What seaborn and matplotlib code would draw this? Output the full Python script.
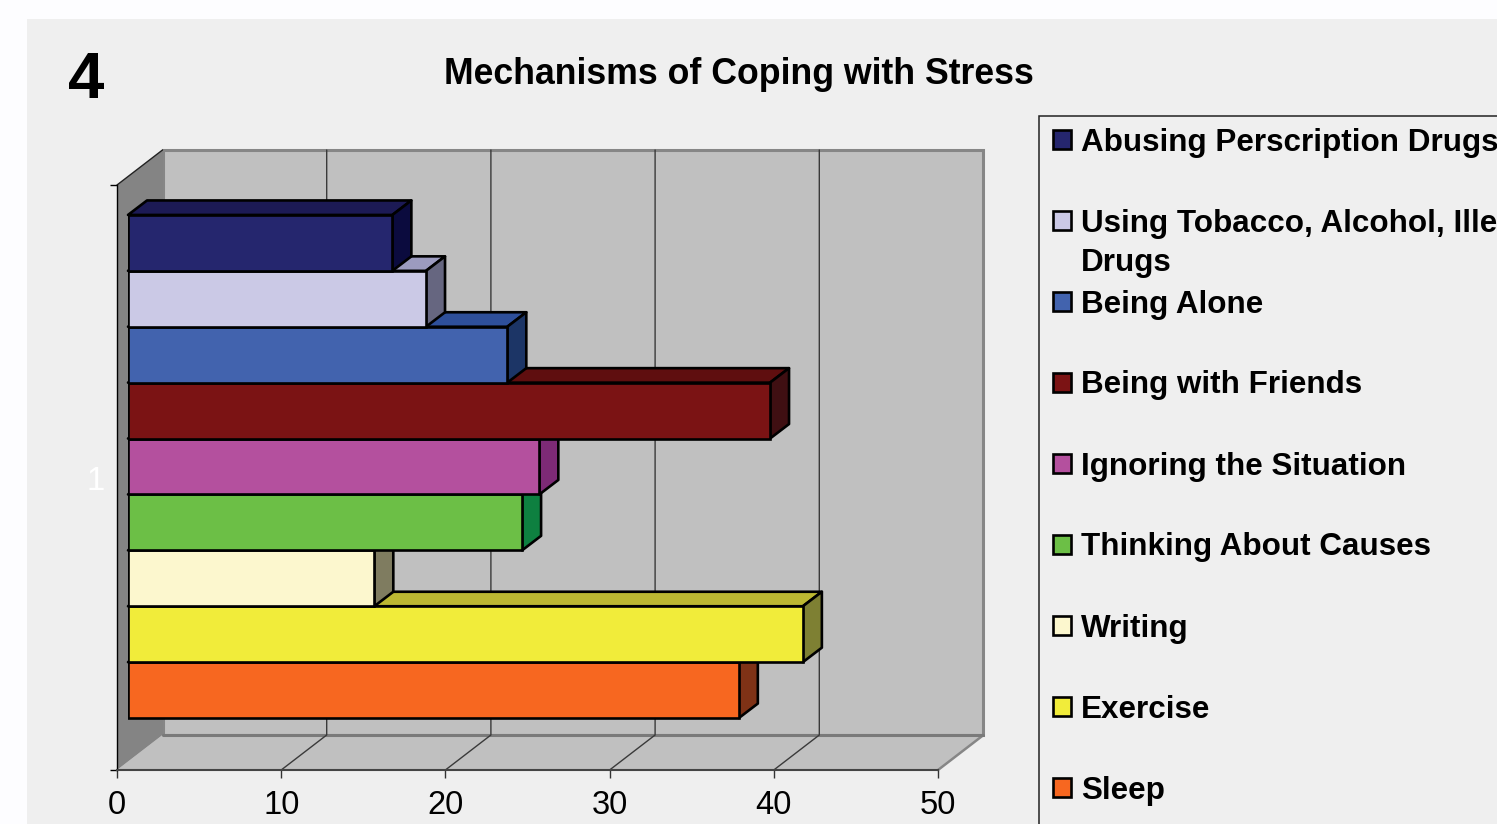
import matplotlib
matplotlib.use("Agg")
import matplotlib.pyplot as plt
from matplotlib.patches import Polygon, Rectangle
from matplotlib.transforms import IdentityTransform
import numpy as np
import pandas as pd
import seaborn as sns

title = "Mechanisms of Coping with Stress"
panel_number = "4"
category = "1"
series = ["Abusing Perscription Drugs", "Using Tobacco, Alcohol, Illegal\nDrugs", "Being Alone",
          "Being with Friends", "Ignoring the Situation", "Thinking About Causes",
          "Writing", "Exercise", "Sleep"]
values = [16.1, 18.15, 23.1, 39.1, 25.05, 24.0, 15.0, 41.1, 37.2]
x_ticks = [0, 10, 20, 30, 40, 50]
front_colors = ["#25266E", "#CBC9E6", "#4263AE", "#7B1314", "#B4509E", "#6CBF46", "#FCF7CE", "#F1EC3A", "#F76720"]
top_colors = ["#1C1A55", "#9C9BBF", "#2E4F9A", "#5F0E0F", "#8A3A7B", "#4E8C33", "#BDB99B", "#BCB832", "#B04A17"]
side_colors = ["#0B0B3E", "#666680", "#1C3566", "#3F0F12", "#7D2A76", "#0E8040", "#7F7C60", "#7E8033", "#7F3216"]

W, H = 1497, 824
FONT = "Liberation Sans"
sns.set_style("white")
plt.rcParams["font.family"] = [FONT, "DejaVu Sans"]

fig = plt.figure(figsize=(W / 100, H / 100), dpi=100, facecolor="#FDFDFF")
ident = IdentityTransform()


def rect(left, top, right, bottom):
    return [left / W, 1 - bottom / H, (right - left) / W, (bottom - top) / H]


def flip(py):
    return H - py


fig.add_artist(Rectangle((27, flip(H + 5)), W, H + 5 - 19, transform=ident, fc="#EFEFEF", ec="none", zorder=-2))

# Frame axes: tick scale, walls and floor
base = fig.add_axes(rect(117, 185, 938, 770), facecolor="none", zorder=1)
base.set_xlim(0, 50)
base.set_ylim(-0.5, 0.5)
base.set_xticks(x_ticks)
base.set_yticks([0], [category])
base.set_yticks([-0.5, 0.5], minor=True)
base.tick_params(axis="x", length=5.5, width=1, labelsize=23.5, pad=9, color="#333333", labelcolor="black", bottom=True)
base.tick_params(axis="y", which="major", length=0, labelsize=23.5, labelcolor="white", pad=9)
base.tick_params(axis="y", which="minor", length=5, width=1, color="black", left=True)
for s in ("top", "right"):
    base.spines[s].set_visible(False)
base.spines["left"].set_color("black")
base.spines["left"].set_linewidth(1)
base.spines["bottom"].set_color("#444444")
base.spines["bottom"].set_linewidth(1.5)
fig.canvas.draw()

dx, dy = 45.5, 35
(x0, y0) = base.transData.transform((0, -0.5))
(x1, y1) = base.transData.transform((50, 0.5))


def add_poly(ax, pts, **kw):
    ax.add_patch(Polygon(pts, closed=True, transform=ident, clip_on=False, **kw))


add_poly(base, [(x0 + dx, y0 + dy), (x1 + dx, y0 + dy), (x1 + dx, y1 + dy), (x0 + dx, y1 + dy)],
         fc="#C0C0C0", ec="#868686", lw=2.2, joinstyle="miter", zorder=0.1)
add_poly(base, [(x0, y0), (x1, y0), (x1 + dx, y0 + dy), (x0 + dx, y0 + dy)],
         fc="#C0C0C0", ec="none", zorder=0.2)
add_poly(base, [(x0, y0), (x0 + dx, y0 + dy), (x0 + dx, y1 + dy), (x0, y1)],
         fc="#848484", ec="none", zorder=0.3)
base.plot([x1, x1 + dx], [y0, y0 + dy], transform=ident, color="#868686", lw=1.8, clip_on=False, zorder=0.4)
base.plot([x0 + dx, x1 + dx], [y0 + dy, y0 + dy], transform=ident, color="#7A7A7A", lw=2.2, clip_on=False, zorder=0.4)
base.plot([x0, x0 + dx], [y1, y1 + dy], transform=ident, color="#222222", lw=1, clip_on=False, zorder=0.5)
for t in x_ticks[1:-1]:
    xp = base.transData.transform((t, 0))[0]
    base.plot([xp, xp + dx, xp + dx], [y0, y0 + dy, y1 + dy], transform=ident, color="#3A3A3A", lw=1,
              clip_on=False, zorder=0.5)

# Bars
bars_ax = fig.add_axes(rect(128, 174, 949, 759), facecolor="none", zorder=2)
df = pd.DataFrame({"series": series, "value": values, "category": [category] * len(series)})
sns.barplot(data=df, x="value", y="category", hue="series", hue_order=series, palette=front_colors,
            saturation=1, width=0.86, gap=0, dodge=True, edgecolor="black", linewidth=1.9,
            legend=False, ax=bars_ax)
bars_ax.set_xlim(0, 50)
bars_ax.set_ylim(0.5, -0.5)
bars_ax.axis("off")
fig.canvas.draw()

ddx, ddy = 19, 14.5
n = len(series)
for i, bar in enumerate(bars_ax.patches[:n]):
    bx, by, bw, bh = bar.get_x(), bar.get_y(), bar.get_width(), bar.get_height()
    (l, b) = bars_ax.transData.transform((bx, by + bh))
    (r, t) = bars_ax.transData.transform((bx + bw, by))
    z = (n - i) * 10
    bar.set_zorder(z + 1)
    add_poly(bars_ax, [(l, t), (r, t), (r + ddx, t + ddy), (l + ddx, t + ddy)],
             fc=top_colors[i], ec="black", lw=1.9, joinstyle="round", zorder=z)
    add_poly(bars_ax, [(r, b), (r + ddx, b + ddy), (r + ddx, t + ddy), (r, t)],
             fc=side_colors[i], ec="black", lw=1.9, joinstyle="round", zorder=z)

# Texts
fig.text(739 / W, 1 - 74.5 / H, title, fontsize=25.7, fontweight="bold", ha="center", va="center", color="black")
fig.text(86 / W, 1 - 81 / H, panel_number, fontsize=47, fontweight="bold", ha="center", va="center", color="black")

# Legend
fig.add_artist(Rectangle((1039, flip(H + 10)), W, H + 10 - 116, transform=ident, fc="#EFEFEF",
                         ec="#222222", lw=1.1, zorder=3))
for i, (label, color) in enumerate(zip(series, front_colors)):
    yc = 139.5 + 81 * i
    fig.add_artist(Rectangle((1053, flip(yc + 9.5)), 18, 19, transform=ident, fc=color, ec="black", lw=1.9, zorder=4))
    fig.text(1081 / W, 1 - (yc - 12) / H, label, fontsize=22.6, fontweight="bold", ha="left", va="top",
             linespacing=1.4, color="black", zorder=4)

fig.savefig("out.png", dpi=100, facecolor=fig.get_facecolor())
